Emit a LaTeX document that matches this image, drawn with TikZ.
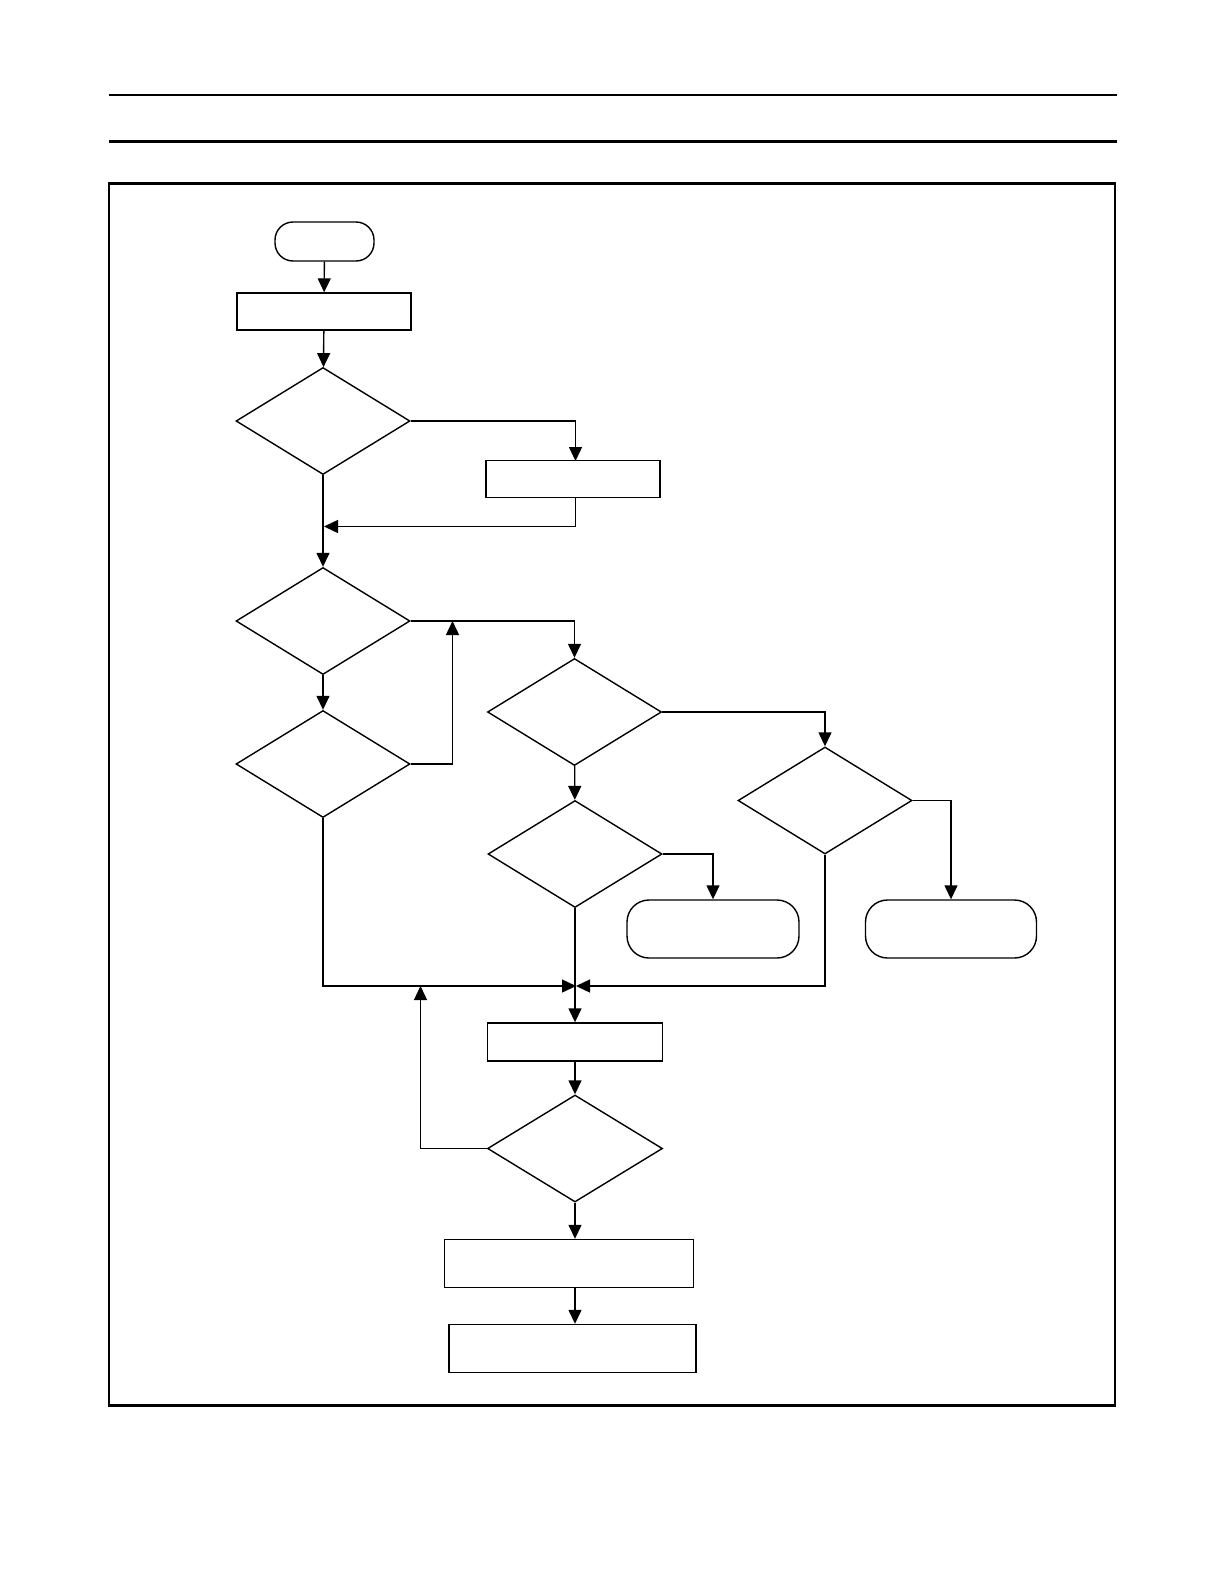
\documentclass[tikz,border=0pt]{standalone}
\usepackage{tikz}
\usetikzlibrary{shapes.geometric,arrows.meta}

\begin{document}
\begin{tikzpicture}[x=1pt,y=-1pt,
  line width=1.4pt,
  proc/.style={draw,rectangle,inner sep=0pt,minimum width=174pt,minimum height=37pt},
  wide/.style={proc,minimum width=248pt,minimum height=48pt},
  decide/.style={draw,diamond,inner sep=0pt,minimum width=174pt,minimum height=107pt},
  term/.style={draw,rectangle,rounded corners=22pt,inner sep=0pt,minimum width=172pt,minimum height=58pt},
  arr/.style={-{Triangle[length=14pt,width=13pt]}}]
\def\W{1224}
\def\H{1582}
\useasboundingbox (0,0) rectangle (\W,\H);

% page frame
\draw[line width=2.3pt] (108.5,95) -- (1116.5,95);
\draw[line width=2.3pt] (108.5,141.5) -- (1116.5,141.5);
\draw[line width=2.3pt] (109,183.5) rectangle (1115,1405.5);

\node[term,minimum width=99pt,minimum height=39pt,rounded corners=18pt] (start) at (324.5,241.5) {};
\node[proc] (init) at (324,311.5) {};
\node[decide] (dA) at (323,421) {};
\node[proc] (setA) at (573,479) {};
\node[decide] (dB) at (323,621) {};
\node[decide] (dC) at (323,764) {};
\node[decide] (dD) at (574.5,712) {};
\node[decide] (dE) at (575,854) {};
\node[decide] (dF) at (825,800.5) {};
\node[term] (endA) at (713,929) {};
\node[term,minimum width=171pt] (endB) at (951,929) {};
\node[proc,minimum width=175pt,minimum height=38pt] (step) at (575,1042) {};
\node[decide,minimum width=175pt] (dG) at (575,1148.5) {};
\node[wide,minimum width=249pt] (outA) at (569,1263.5) {};
\node[wide,minimum width=247pt] (outB) at (572.5,1348.5) {};

\coordinate (joinA) at (324,526.5);
\coordinate (joinB) at (452.5,621);
\coordinate (merge) at (576,986);
\coordinate (back) at (420.5,986);

\draw[arr] (start) -- (init);
\draw[arr] (init) -- (dA);
\draw[arr] (dA.east) -| (575.5,461);
\draw[arr] (575.5,497.5) |- (joinA);
\draw[arr] (dA) -- (dB);
\draw[arr] (dB) -- (dC);
\draw[arr] (dC.east) -| (joinB);
\draw[arr] (dB.east) -| (dD.north);
\draw[arr] (dD.east) -| (dF.north);
\draw[arr] (dD) -- (dE);
\draw[arr] (dE.east) -| (endA.north);
\draw[arr] (dF.east) -| (endB.north);
\draw[arr] (dC.south) |- (merge);
\draw[arr] (dF.south) |- (merge);
\draw[arr] (dE.south) -- (step.north);
\draw[arr] (step) -- (dG);
\draw[arr] (dG.west) -| (back);
\draw[arr] (dG.south) -- (dG.south |- outA.north);
\draw[arr] (dG.south |- outA.south) -- (dG.south |- outB.north);
\end{tikzpicture}
\end{document}
